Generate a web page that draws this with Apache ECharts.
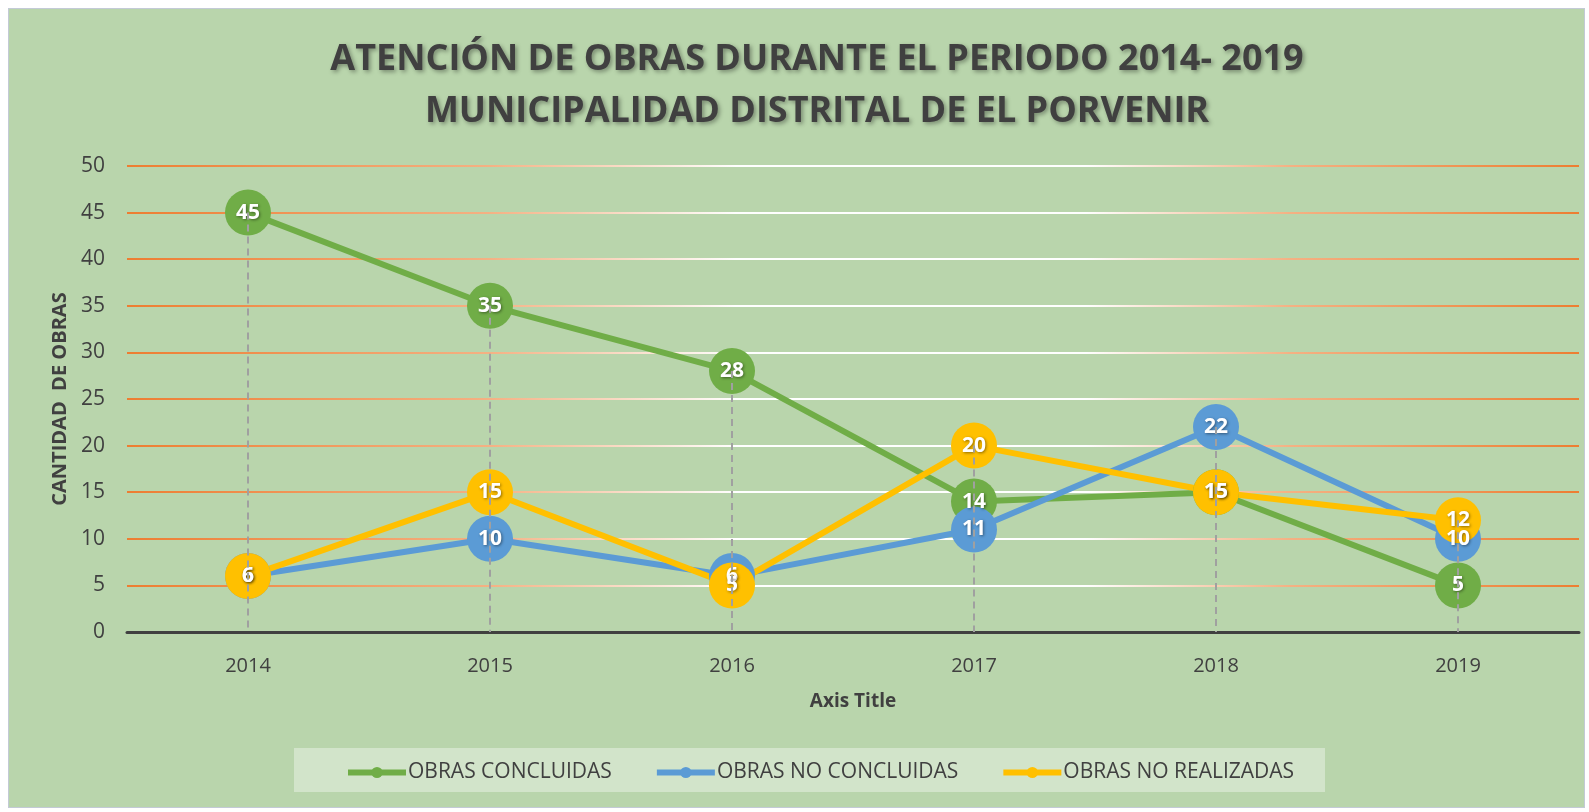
<!DOCTYPE html>
<html>
<head>
<meta charset="utf-8">
<title>Atención de obras 2014-2019</title>
<script src="https://cdn.jsdelivr.net/npm/echarts@6/dist/echarts.min.js"></script>
<style>
  html, body { margin: 0; padding: 0; background: #ffffff; }
  #frame {
    position: absolute; left: 8px; top: 8px; width: 1577px; height: 800px;
    background: #b9d5ac; border: 1px solid #c3cad6; box-sizing: border-box;
  }
  #chart { position: absolute; left: 0; top: 0; width: 1589px; height: 812px; }
</style>
</head>
<body>
<div id="frame"></div>
<div id="chart"></div>
<script>
  var years = ['2014', '2015', '2016', '2017', '2018', '2019'];
  var concluidas = [45, 35, 28, 14, 15, 5];
  var noConcluidas = [6, 10, 6, 11, 22, 10];
  var noRealizadas = [6, 15, 5, 20, 15, 12];

  var FONT = '"Open Sans", sans-serif';
  var TEXT = '#404040';

  // drop lines: from the highest point of each year down to the axis
  var dropLines = [];
  for (var i = 0; i < years.length; i += 1) {
    var highest = Math.max(concluidas[i], noConcluidas[i], noRealizadas[i]);
    dropLines.push([{ coord: [years[i], highest] }, { coord: [years[i], 0] }]);
  }

  function makeSeries(name, data, color, withDrops) {
    var s = {
      name: name,
      type: 'line',
      data: data,
      symbol: 'circle',
      symbolSize: 46,
      lineStyle: { color: color, width: 6 },
      itemStyle: { color: color },
      label: {
        show: true,
        position: 'inside',
        color: '#ffffff',
        fontFamily: FONT,
        fontWeight: 'bold',
        fontSize: 21,
        textShadowColor: 'rgba(0,0,0,0.45)',
        textShadowBlur: 3,
        textShadowOffsetX: 1,
        textShadowOffsetY: 1
      },
      emphasis: { disabled: true }
    };
    if (withDrops) {
      s.markLine = {
        silent: true,
        symbol: 'none',
        label: { show: false },
        lineStyle: { color: '#a0a0a0', type: [7, 5], width: 2 },
        data: dropLines
      };
    }
    return s;
  }

  var chart = echarts.init(document.getElementById('chart'));

  chart.setOption({
    backgroundColor: 'transparent',
    animation: false,
    title: {
      text: 'ATENCIÓN DE OBRAS DURANTE EL PERIODO 2014- 2019\nMUNICIPALIDAD DISTRITAL DE EL PORVENIR',
      left: 812,
      top: 29,
      textAlign: 'center',
      textStyle: {
        fontFamily: FONT,
        fontWeight: 'bold',
        fontSize: 36,
        lineHeight: 52,
        color: TEXT,
        textShadowColor: 'rgba(0,0,0,0.35)',
        textShadowBlur: 4,
        textShadowOffsetX: 2,
        textShadowOffsetY: 2
      }
    },
    graphic: [{
      type: 'rect',
      shape: { x: 294, y: 748, width: 1031, height: 44 },
      style: { fill: '#d2e4ca' },
      z: -1
    }],
    legend: {
      top: 757,
      left: 340,
      itemWidth: 58,
      itemHeight: 14,
      itemGap: 42,
      lineStyle: { width: 6 },
      textStyle: { fontFamily: FONT, fontSize: 21, color: TEXT, padding: [0, 0, 0, -3] },
      data: ['OBRAS CONCLUIDAS', 'OBRAS NO CONCLUIDAS', 'OBRAS NO REALIZADAS']
    },
    grid: { left: 127, right: 10, top: 166, bottom: 180, containLabel: false },
    xAxis: {
      type: 'category',
      data: years,
      boundaryGap: true,
      name: 'Axis Title',
      nameLocation: 'middle',
      nameGap: 60,
      nameTextStyle: { fontFamily: FONT, fontWeight: 'bold', fontSize: 19, color: TEXT },
      axisLine: { lineStyle: { color: '#404040', width: 3 } },
      axisTick: { show: false },
      axisLabel: { margin: 24, fontFamily: FONT, fontSize: 20, color: TEXT }
    },
    yAxis: {
      type: 'value',
      min: 0,
      max: 50,
      interval: 5,
      name: 'CANTIDAD  DE OBRAS',
      nameLocation: 'middle',
      nameRotate: 90,
      nameGap: 54,
      nameTextStyle: { fontFamily: FONT, fontWeight: 'bold', fontSize: 20, color: TEXT },
      axisLine: { show: false },
      axisTick: { show: false },
      axisLabel: { margin: 22, fontFamily: FONT, fontSize: 21, color: TEXT },
      splitLine: {
        lineStyle: {
          width: 2,
          color: {
            type: 'linear', x: 0, y: 0, x2: 1, y2: 0,
            colorStops: [
              { offset: 0, color: '#ed7d31' },
              { offset: 0.25, color: '#f4b183' },
              { offset: 0.42, color: '#ffffff' },
              { offset: 0.66, color: '#ffffff' },
              { offset: 0.8, color: '#f4b183' },
              { offset: 1, color: '#ed7d31' }
            ]
          }
        }
      }
    },
    series: [
      makeSeries('OBRAS CONCLUIDAS', concluidas, '#70ad47', true),
      makeSeries('OBRAS NO CONCLUIDAS', noConcluidas, '#5b9bd5', false),
      makeSeries('OBRAS NO REALIZADAS', noRealizadas, '#ffc000', false)
    ]
  });

  window.addEventListener('resize', function () {
    chart.resize();
  });
</script>
</body>
</html>
